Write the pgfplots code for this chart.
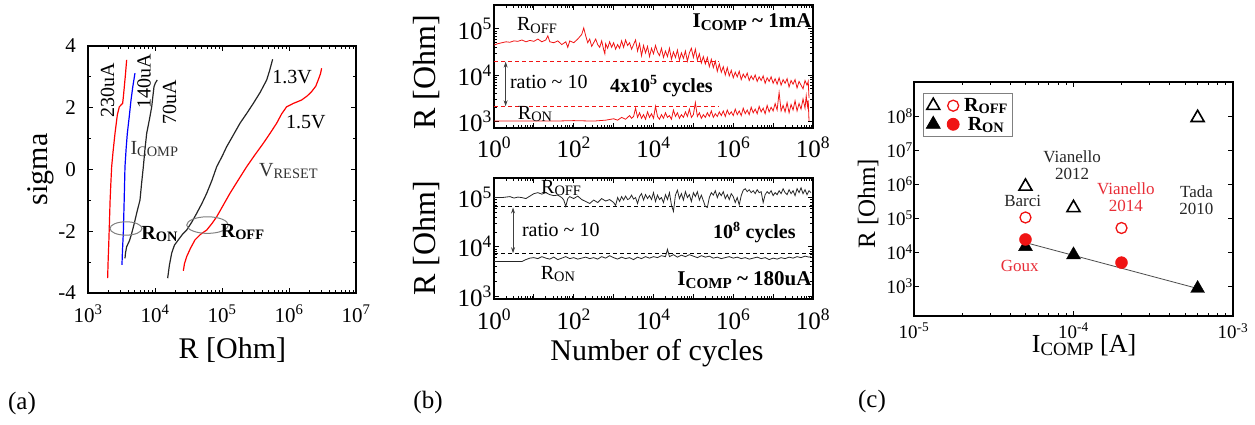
\documentclass[border=0pt]{standalone}
\usepackage{fontspec}
\setmainfont{Liberation Serif}
\usepackage{pgfplots}
\pgfplotsset{compat=1.18}
\usepackage{pgfplotstable}
\usetikzlibrary{arrows.meta}
\definecolor{myred}{RGB}{240,20,20}
\definecolor{lred}{RGB}{232,45,55}
\newcommand{\FS}[1]{\fontsize{#1}{#1}\selectfont}
\newcommand{\lo}[1]{\raisebox{-0.25ex}{\scalebox{0.72}{#1}}}
\newcommand{\E}[1]{10\textsuperscript{#1}}

% ---------- panel (a): log10(R), sigma ----------
\pgfplotstableread{
lx s
3.293 -3.52
3.300 -3.0
3.310 -2.4
3.318 -1.85
3.330 -1.0
3.340 -0.5
3.353 0.09
3.375 0.6
3.403 1.17
3.438 1.77
3.467 2.03
3.517 2.14
3.530 2.40
3.542 2.68
3.560 3.10
3.577 3.55
}\aA
\pgfplotstableread{
lx s
3.507 -3.09
3.515 -2.6
3.527 -2.07
3.540 -1.0
3.552 0.09
3.570 0.7
3.587 1.17
3.615 1.70
3.642 2.25
3.670 2.70
3.701 3.12
}\aB
\pgfplotstableread{
lx s
3.552 -2.88
3.560 -2.7
3.577 -2.5
3.620 -2.3
3.652 -2.07
3.690 -1.75
3.726 -1.42
3.776 -0.99
3.800 -0.45
3.826 0.09
3.850 0.65
3.876 1.17
3.915 1.60
3.951 2.03
3.970 2.40
3.985 2.68
4.005 2.80
4.034 2.90
}\aC
\pgfplotstableread{
lx s
4.189 -3.52
4.215 -3.1
4.249 -2.71
4.290 -2.45
4.348 -2.28
4.410 -2.10
4.473 -1.96
4.550 -1.70
4.622 -1.42
4.700 -1.10
4.772 -0.77
4.850 -0.35
4.921 0.09
5.000 0.42
5.070 0.74
5.170 1.12
5.269 1.50
5.370 1.82
5.467 2.14
5.570 2.50
5.667 2.90
5.710 3.20
5.756 3.57
}\aD
\pgfplotstableread{
lx s
4.423 -3.28
4.440 -3.05
4.473 -2.82
4.530 -2.55
4.597 -2.28
4.680 -2.10
4.772 -1.96
4.850 -1.75
4.921 -1.53
5.020 -1.15
5.119 -0.77
5.240 -0.35
5.368 0.09
5.490 0.47
5.617 0.85
5.720 1.18
5.816 1.50
5.890 1.80
5.964 2.03
6.064 2.14
6.188 2.25
6.270 2.38
6.337 2.52
6.400 2.70
6.436 2.90
6.470 3.10
6.487 3.28
}\aE

% ---------- panel (b): log10(cycles), log10(R) ----------
\pgfplotstableread{
lx ly
0.00 4.65
0.10 4.68
0.20 4.70
0.30 4.72
0.40 4.71
0.50 4.74
0.60 4.73
0.70 4.76
0.80 4.72
0.90 4.75
1.00 4.73
1.10 4.78
1.20 4.72
1.30 4.76
1.35 4.85
1.40 4.72
1.50 4.70
1.60 4.74
1.70 4.66
1.80 4.72
1.85 4.60
1.90 4.74
2.00 4.70
2.10 4.78
2.20 4.88
2.25 5.02
2.30 4.85
2.35 4.70
2.40 4.78
2.45 4.62
2.50 4.70
2.55 4.78
2.60 4.66
2.65 4.60
2.70 4.74
2.75 4.55
2.78 4.46
2.80 4.68
2.85 4.58
2.90 4.72
2.95 4.60
3.00 4.70
3.05 4.56
3.10 4.66
3.15 4.58
3.20 4.74
3.25 4.60
3.30 4.76
3.35 4.64
3.40 4.70
3.45 4.56
3.50 4.66
3.55 4.76
3.60 4.52
3.65 4.68
3.70 4.42
3.75 4.64
3.80 4.48
3.85 4.62
3.90 4.40
3.95 4.58
4.00 4.46
4.05 4.64
4.10 4.50
4.15 4.42
4.20 4.58
4.25 4.38
4.30 4.52
4.35 4.40
4.40 4.58
4.45 4.34
4.50 4.50
4.55 4.38
4.60 4.54
4.65 4.32
4.70 4.48
4.75 4.36
4.80 4.52
4.85 4.30
4.90 4.48
4.95 4.58
5.00 4.38
5.05 4.56
5.10 4.32
5.15 4.46
5.20 4.26
5.25 4.40
5.30 4.24
5.35 4.38
5.40 4.18
5.45 4.34
5.50 4.16
5.55 4.30
5.60 4.08
5.65 4.24
5.70 4.06
5.75 4.18
5.80 4.00
5.85 4.16
5.90 3.98
5.95 4.10
6.00 3.94
6.05 4.06
6.10 3.96
6.15 4.08
6.20 3.90
6.25 4.02
6.30 3.94
6.35 4.04
6.40 3.88
6.45 3.98
6.50 3.90
6.55 4.00
6.60 3.86
6.65 3.96
6.70 3.88
6.75 3.98
6.80 3.82
6.85 3.94
6.90 3.86
6.95 3.96
7.00 3.82
7.05 3.92
7.10 3.80
7.15 3.94
7.20 3.78
7.25 3.90
7.30 3.82
7.35 3.92
7.40 3.74
7.45 3.88
7.50 3.80
7.55 3.90
7.60 3.72
7.65 3.86
7.70 3.78
7.75 3.70
7.80 3.88
7.85 3.78
7.88 3.86
7.90 3.50
}\bOffTop
\pgfplotstableread{
lx ly
0.00 3.00
0.50 3.00
1.00 3.00
1.50 3.00
2.00 3.01
2.50 3.00
2.80 3.02
3.00 3.05
3.10 3.02
3.20 3.08
3.30 3.04
3.40 3.12
3.45 3.06
3.50 3.10
3.55 3.28
3.60 3.08
3.65 3.18
3.70 3.06
3.75 3.14
3.80 3.04
3.85 3.20
3.90 3.08
3.95 3.16
4.00 3.06
4.05 3.32
4.10 3.10
4.15 3.04
4.20 3.14
4.25 3.06
4.30 3.18
4.35 3.08
4.40 3.12
4.45 3.04
4.50 3.24
4.55 3.10
4.60 3.18
4.65 3.06
4.70 3.14
4.75 3.08
4.80 3.20
4.85 3.10
4.90 3.26
4.95 3.08
5.00 3.14
5.05 3.40
5.10 3.10
5.15 3.18
5.20 3.06
5.25 3.14
5.30 3.08
5.35 3.18
5.40 3.10
5.45 3.22
5.50 3.08
5.55 3.16
5.60 3.10
5.65 3.20
5.70 3.12
5.75 3.22
5.80 3.10
5.85 3.24
5.90 3.14
5.95 3.20
6.00 3.12
6.05 3.26
6.10 3.14
6.15 3.22
6.20 3.12
6.25 3.28
6.30 3.16
6.35 3.24
6.40 3.14
6.45 3.30
6.50 3.18
6.55 3.26
6.60 3.16
6.65 3.32
6.70 3.20
6.75 3.28
6.80 3.16
6.85 3.34
6.90 3.20
6.95 3.30
7.00 3.22
7.05 3.38
7.10 3.24
7.15 3.62
7.20 3.22
7.25 3.34
7.30 3.20
7.35 3.40
7.40 3.18
7.45 3.36
7.50 3.24
7.55 3.44
7.60 3.22
7.65 3.38
7.70 3.26
7.75 3.48
7.80 3.28
7.83 3.55
7.86 3.32
7.88 3.45
7.90 3.00
}\bOnTop
\pgfplotstableread{
lx ly
0.00 5.00
0.20 5.00
0.40 5.02
0.50 4.99
0.60 5.01
0.70 5.00
0.80 4.98
0.90 5.03
1.00 5.08
1.10 5.10
1.20 5.07
1.30 5.10
1.40 5.06
1.50 5.04
1.60 5.05
1.70 5.00
1.75 4.95
1.80 4.82
1.85 4.98
1.90 5.02
2.00 4.98
2.10 5.03
2.20 4.96
2.30 4.92
2.40 4.88
2.50 4.95
2.60 4.90
2.70 4.98
2.80 4.93
2.90 4.96
3.00 4.90
3.05 4.84
3.10 5.00
3.15 4.92
3.20 5.02
3.25 4.95
3.30 5.03
3.35 4.96
3.40 4.98
3.45 5.05
3.50 4.97
3.55 5.00
3.60 4.88
3.65 5.02
3.70 5.08
3.75 4.95
3.80 5.06
3.85 4.98
3.90 5.04
3.95 4.96
4.00 5.10
4.05 4.92
4.10 5.05
4.15 4.96
4.20 5.00
4.25 4.90
4.30 5.06
4.35 4.96
4.40 5.10
4.45 4.85
4.50 4.72
4.55 5.05
4.60 5.15
4.65 4.98
4.70 5.08
4.75 4.95
4.80 5.12
4.85 5.00
4.90 5.06
4.95 4.92
5.00 5.10
5.05 5.02
5.10 5.12
5.15 4.95
5.20 5.05
5.30 4.82
5.35 4.80
5.40 5.00
5.45 5.10
5.50 5.05
5.55 5.14
5.60 5.00
5.65 5.10
5.70 5.04
5.75 5.12
5.80 4.98
5.85 5.06
5.90 4.96
5.95 5.08
6.00 5.02
6.05 4.90
6.10 5.00
6.15 4.85
6.20 5.04
6.25 5.15
6.30 5.18
6.35 5.12
6.40 5.16
6.45 5.10
6.50 5.14
6.55 5.08
6.60 5.16
6.65 5.10
6.70 5.12
6.75 4.90
6.80 5.06
6.85 5.12
6.90 5.08
6.95 5.14
7.00 5.04
7.05 5.10
7.10 5.06
7.15 5.14
7.20 5.08
7.25 5.18
7.30 5.10
7.35 5.06
7.40 5.16
7.45 5.08
7.50 5.14
7.55 5.04
7.60 5.18
7.65 5.10
7.70 5.20
7.75 5.08
7.80 5.16
7.85 5.06
7.90 5.14
7.95 5.10
}\bOffBot
\pgfplotstableread{
lx ly
0.00 3.70
0.50 3.70
0.70 3.70
0.80 3.74
0.90 3.77
1.00 3.78
1.10 3.76
1.20 3.80
1.30 3.77
1.40 3.75
1.50 3.79
1.60 3.74
1.70 3.77
1.80 3.80
1.90 3.76
2.00 3.78
2.10 3.75
2.20 3.77
2.30 3.79
2.40 3.76
2.50 3.78
2.60 3.75
2.70 3.80
2.80 3.77
2.90 3.82
3.00 3.78
3.10 3.75
3.20 3.79
3.30 3.76
3.40 3.78
3.50 3.74
3.60 3.79
3.70 3.76
3.80 3.80
3.90 3.77
4.00 3.80
4.10 3.78
4.20 3.82
4.30 3.80
4.35 3.95
4.40 3.80
4.50 3.84
4.60 3.79
4.70 3.83
4.80 3.80
4.90 3.84
5.00 3.81
5.10 3.78
5.20 3.82
5.30 3.79
5.40 3.81
5.50 3.77
5.60 3.79
5.70 3.76
5.80 3.78
5.90 3.80
6.00 3.77
6.10 3.79
6.20 3.76
6.30 3.78
6.40 3.75
6.50 3.77
6.60 3.79
6.70 3.76
6.80 3.78
6.90 3.74
7.00 3.77
7.10 3.75
7.20 3.78
7.30 3.76
7.40 3.79
7.50 3.77
7.60 3.80
7.70 3.78
7.80 3.81
7.90 3.79
7.95 3.80
}\bOnBot

\pgfplotsset{
  base/.style={
    scale only axis, anchor=south west, clip=false,
    axis line style={line width=1.1pt},
    tick style={black, line width=0.8pt},
    tick align=inside, major tick length=5pt, minor tick length=3pt,
  },
}

\begin{document}
\begin{tikzpicture}
\useasboundingbox (0pt,0pt) rectangle (1255pt,424pt);

% ================= (a) =================
\begin{axis}[base, at={(88pt,131pt)}, width=268pt, height=247pt,
  xmode=log, xmin=1e3, xmax=1e7, ymin=-4, ymax=4,
  xtick={1e3,1e4,1e5,1e6,1e7}, xticklabels={\E{3},\E{4},\E{5},\E{6},\E{7}},
  ytick={-4,-2,0,2,4}, yticklabels={-4,-2,0,2,4}, minor ytick={-3,-1,1,3},
  ticklabel style={font=\FS{21}},
  xticklabel style={inner sep=0pt, yshift=-12pt},
  yticklabel style={inner sep=0pt, xshift=-12pt},
  xlabel={R [Ohm]}, ylabel={sigma},
  xlabel style={font=\FS{30}, anchor=center, at={(axis description cs:0.539,-0.231)}},
  ylabel style={font=\FS{30}, anchor=center, at={(axis description cs:-0.175,0.5)}},
]
\addplot[red, line width=1.2pt] table[x expr=10^\thisrow{lx}, y=s] {\aA};
\addplot[blue, line width=1.2pt] table[x expr=10^\thisrow{lx}, y=s] {\aB};
\addplot[black!85, line width=1.2pt] table[x expr=10^\thisrow{lx}, y=s] {\aC};
\addplot[black!85, line width=1.2pt] table[x expr=10^\thisrow{lx}, y=s] {\aD};
\addplot[red, line width=1.2pt] table[x expr=10^\thisrow{lx}, y=s] {\aE};
\draw[gray, line width=1pt] (axis cs:3690,-1.91) ellipse [x radius=16pt, y radius=6.7pt];
\draw[gray, line width=1pt] (axis cs:6.08e4,-1.80) ellipse [x radius=20.8pt, y radius=8.3pt];
\node[rotate=90, font=\FS{20}] at (axis cs:1955,2.57) {230uA};
\node[rotate=90, font=\FS{20}] at (axis cs:6850,2.87) {140uA};
\node[rotate=90, font=\FS{20}] at (axis cs:16440,2.17) {70uA};
\node[font=\FS{20}, black!80] at (axis cs:9770,0.66) {I\lo{COMP}};
\node[font=\FS{20}\bfseries] at (axis cs:11670,-2.09) {R\lo{ON}};
\node[font=\FS{20}\bfseries] at (axis cs:2.02e5,-2.02) {R\lo{OFF}};
\node[font=\FS{20}] at (axis cs:1.11e6,2.98) {1.3V};
\node[font=\FS{20}] at (axis cs:1.79e6,1.55) {1.5V};
\node[font=\FS{20}, black!80] at (axis cs:9.8e5,-0.05) {V\lo{RESET}};
\end{axis}

% ================= (b) top =================
\begin{axis}[base, at={(494pt,296pt)}, width=319pt, height=123pt,
  xmode=log, ymode=log, xmin=1, xmax=1e8, ymin=708, ymax=3.3e5,
  xtick={1,1e1,1e2,1e3,1e4,1e5,1e6,1e7,1e8},
  xticklabels={\E{0},,\E{2},,\E{4},,\E{6},,\E{8}},
  ytick={1e3,1e4,1e5}, yticklabels={\E{3},\E{4},\E{5}},
  ticklabel style={font=\FS{25}},
  xticklabel style={inner sep=0pt, yshift=-9pt},
  yticklabel style={inner sep=0pt, xshift=-2pt},
  ylabel={R [Ohm]},
  ylabel style={font=\FS{32}, anchor=center, at={(axis description cs:-0.213,0.45)}},
]
\addplot[myred, line width=0.8pt, dash pattern=on 4pt off 3pt] coordinates {(1,2e4) (4.5e5,2e4)};
\addplot[myred, line width=0.8pt, dash pattern=on 4pt off 3pt] coordinates {(1,2.05e3) (4.5e5,2.05e3)};
\addplot[myred, line width=0.8pt] table[x expr=10^\thisrow{lx}, y expr=10^\thisrow{ly}] {\bOffTop};
\addplot[myred, line width=0.8pt] table[x expr=10^\thisrow{lx}, y expr=10^\thisrow{ly}] {\bOnTop};
\draw[{Stealth[length=6pt,width=4pt]}-{Stealth[length=6pt,width=4pt]}, line width=0.8pt, black!75]
  (axis cs:1.96,1.95e4) -- (axis cs:1.96,2.1e3);
\node[font=\FS{20}] at (axis cs:12,1.19e5) {R\lo{OFF}};
\node[font=\FS{20}] at (axis cs:10.7,1.41e3) {R\lo{ON}};
\node[font=\FS{20}, anchor=west, inner sep=0pt] at (axis cs:2.5,7.0e3) {ratio \textasciitilde{} 10};
\node[font=\FS{20}\bfseries, anchor=west, inner sep=0pt] at (axis cs:812,5750) {4x10\textsuperscript{5} cycles};
\node[font=\FS{21}\bfseries, anchor=east, inner sep=0pt] at (axis cs:9.3e7,1.41e5) {I\lo{COMP} \textasciitilde{} 1mA};
\end{axis}

% ================= (b) bottom =================
\begin{axis}[base, at={(494pt,125pt)}, width=319pt, height=121pt,
  xmode=log, ymode=log, xmin=1, xmax=1e8, ymin=870, ymax=2.5e5,
  xtick={1,1e1,1e2,1e3,1e4,1e5,1e6,1e7,1e8},
  xticklabels={\E{0},,\E{2},,\E{4},,\E{6},,\E{8}},
  ytick={1e3,1e4,1e5}, yticklabels={\E{3},\E{4},\E{5}},
  ticklabel style={font=\FS{25}},
  xticklabel style={inner sep=0pt, yshift=-10pt},
  yticklabel style={inner sep=0pt, xshift=-2pt},
  xlabel={Number of cycles}, ylabel={R [Ohm]},
  xlabel style={font=\FS{30}, anchor=center, at={(axis description cs:0.511,-0.446)}},
  ylabel style={font=\FS{32}, anchor=center, at={(axis description cs:-0.213,0.5)}},
]
\addplot[black, line width=0.8pt, dash pattern=on 4pt off 3pt] coordinates {(1,6.5e4) (1e8,6.5e4)};
\addplot[black, line width=0.8pt, dash pattern=on 4pt off 3pt] coordinates {(1,7.2e3) (1e8,7.2e3)};
\addplot[black!85, line width=0.8pt] table[x expr=10^\thisrow{lx}, y expr=10^\thisrow{ly}] {\bOffBot};
\addplot[black!85, line width=0.8pt] table[x expr=10^\thisrow{lx}, y expr=10^\thisrow{ly}] {\bOnBot};
\draw[{Stealth[length=6pt,width=4pt]}-{Stealth[length=6pt,width=4pt]}, line width=0.8pt, black!75]
  (axis cs:3.0,6.3e4) -- (axis cs:3.0,7.4e3);
\node[font=\FS{20}] at (axis cs:48,1.56e5) {R\lo{OFF}};
\node[font=\FS{20}] at (axis cs:40,2.8e3) {R\lo{ON}};
\node[font=\FS{20}, anchor=west, inner sep=0pt] at (axis cs:5.0,2.2e4) {ratio \textasciitilde{} 10};
\node[font=\FS{20}\bfseries, anchor=west, inner sep=0pt] at (axis cs:3.1e5,1.95e4) {10\textsuperscript{8} cycles};
\node[font=\FS{21}\bfseries, anchor=east, inner sep=0pt] at (axis cs:9.3e7,2.1e3) {I\lo{COMP} \textasciitilde{} 180uA};
\end{axis}

% ================= (c) =================
\begin{axis}[base, at={(914pt,108pt)}, width=319pt, height=234pt,
  xmode=log, ymode=log, xmin=1e-5, xmax=1e-3, ymin=132, ymax=1e9,
  xtick={1e-5,1e-4,1e-3}, xticklabels={\E{-5},\E{-4},\E{-3}},
  ytick={1e3,1e4,1e5,1e6,1e7,1e8},
  yticklabels={\E{3},\E{4},\E{5},\E{6},\E{7},\E{8}},
  yminorticks=false,
  ticklabel style={font=\FS{19}},
  xticklabel style={inner sep=0pt, yshift=-7pt},
  yticklabel style={inner sep=0pt, xshift=-1pt},
  xlabel={I\lo{COMP} [A]}, ylabel={R [Ohm]},
  xlabel style={font=\FS{26}, anchor=center, at={(axis description cs:0.533,-0.125)}},
  ylabel style={font=\FS{25}, anchor=center, at={(axis description cs:-0.144,0.48)}},
  legend columns=2,
  legend style={at={(0.028,0.953)}, anchor=north west, draw=gray, line width=0.8pt,
    font=\FS{20}, inner sep=3pt,
    /tikz/every odd column/.append style={column sep=3pt}},
]
\addplot[gray!60!black, line width=0.8pt, forget plot] coordinates {(5e-5,1.9e4) (6e-4,850)};
\addplot[only marks, black, mark=triangle, mark size=7.5pt, line width=1.6pt] coordinates {(5e-5,8.5e5) (1e-4,2e5) (6e-4,8.9e7)};
\addlegendentry{\hspace{0pt}}
\addplot[only marks, myred, mark=o, mark size=5.5pt, line width=1.3pt] coordinates {(5e-5,1.04e5) (2e-4,5.1e4)};
\addlegendentry{\textbf{R\lo{OFF}}}
\addplot[only marks, black, mark=triangle*, mark size=8pt] coordinates {(5e-5,1.45e4) (1e-4,8.3e3) (6e-4,850)};
\addlegendentry{\hspace{0pt}}
\addplot[only marks, myred, mark=*, mark size=6pt] coordinates {(5e-5,2.35e4) (2e-4,4.9e3)};
\addlegendentry{\textbf{R\lo{ON}}}
\node[font=\FS{17}, black!85] at (axis cs:4.8e-5,3.16e5) {Barci};
\node[font=\FS{17}, black!85, align=center] at (axis cs:9.8e-5,3.6e6) {Vianello\\2012};
\node[font=\FS{17}, lred, align=center] at (axis cs:2.13e-4,4.2e5) {Vianello\\2014};
\node[font=\FS{17}, black!85, align=center] at (axis cs:5.9e-4,3.4e5) {Tada\\2010};
\node[font=\FS{17}, lred] at (axis cs:4.6e-5,3.9e3) {Goux};
\end{axis}

\node[font=\FS{25}] at (22pt,21pt) {(a)};
\node[font=\FS{25}] at (428pt,22pt) {(b)};
\node[font=\FS{25}] at (872pt,23pt) {(c)};
\end{tikzpicture}
\end{document}
